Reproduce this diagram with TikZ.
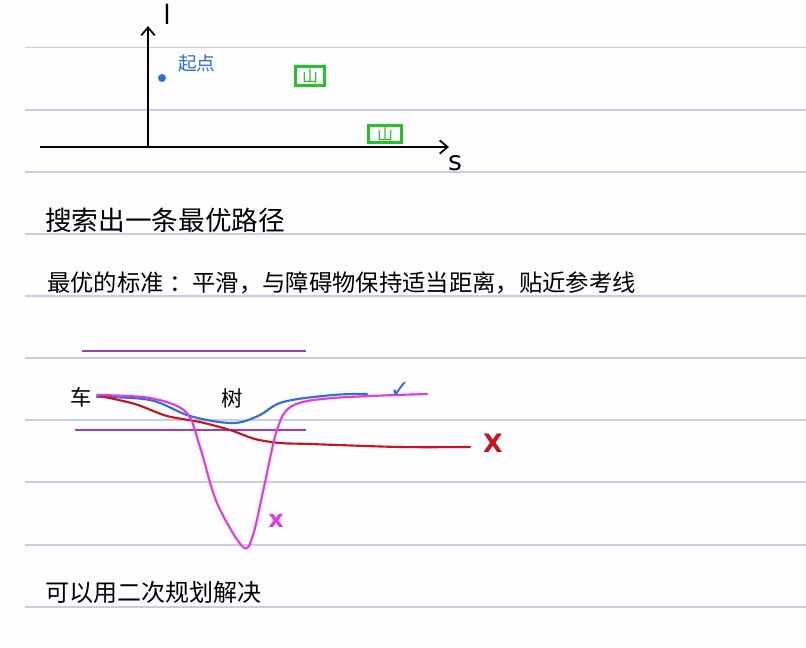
\documentclass[tikz,border=0pt]{standalone}
\usepackage{fontspec}
\setmainfont{DejaVu Sans}
\newfontfamily\cjk{Noto Sans CJK SC}
\newfontfamily\dejavu{DejaVu Sans}
\usetikzlibrary{arrows.meta}
\definecolor{rule}{HTML}{C9CEDF}
\definecolor{penblue}{HTML}{2E6FD8}
\definecolor{penmag}{HTML}{E23BDF}
\definecolor{penred}{HTML}{C4161C}
\definecolor{penpurple}{HTML}{9A3DB6}
\definecolor{pengreen}{HTML}{22C42A}
\definecolor{paper}{HTML}{FDFCFE}
\tikzset{
  ruleline/.style={draw=rule, line width=1.1pt},
  axis/.style={draw=black, line width=1.3pt, -{Straight Barb[length=6pt,width=10pt]}},
  pen/.style={line width=1.6pt, line cap=round, line join=round},
  cjktext/.style={font=\cjk\fontsize{#1}{#1}\selectfont, inner sep=0pt, anchor=west},
  obst/.style={draw=pengreen, line width=1.8pt, inner sep=1pt, text=pengreen, font=\cjk\fontsize{12}{12}\selectfont, minimum height=14pt}
}
\begin{document}
\begin{tikzpicture}[x=0.75pt, y=-0.75pt]
\fill[paper] (0,0) rectangle (806,647);
\useasboundingbox (0,0) rectangle (806,647);
% ruling lines
\foreach \yy in {47.5,110,172,234,296,358,420,482,545,607}
  \draw[ruleline] (25,\yy) -- (806,\yy);
% axes
\coordinate (o) at (148,147);
\coordinate (ltop) at (148,26);
\coordinate (sleft) at (40,147);
\coordinate (send) at (449,147);
\draw[axis] (o) -- (ltop);
\draw[axis] (sleft) -- (send);
\node[font=\dejavu\fontsize{20}{20}\selectfont] (lab-l) at (167,14) {l};
\node[font=\dejavu\fontsize{20}{20}\selectfont] (lab-s) at (455,163) {s};
\fill[penblue] (162,78) circle (3pt);
\node[cjktext=14, text=penblue] (start) at (178,63) {起点};
\node[obst, minimum width=22pt] (ob1) at (310,76) {山};
\node[obst, minimum width=25pt, minimum height=13pt] (ob2) at (385,134) {山};
% text lines
\node[cjktext=20] (title) at (45,220) {搜索出一条最优路径};
\node[cjktext=17.5] (crit) at (47,283) {最优的标准 ：平滑，与障碍物保持适当距离，贴近参考线};
\node[cjktext=18] (qp) at (45,592) {可以用二次规划解决};
% lower sketch
\draw[penpurple, line width=1.2pt] (82,351) -- (306,351);
\draw[penpurple, line width=1.2pt] (75,430) -- (306,430);
\node[cjktext=16] (car) at (70,397) {车};
\node[cjktext=16] (tree) at (221,398) {树};
\draw[pen, penblue] plot[smooth, tension=0.6] coordinates {(97,397) (150,400) (190,416) (232,423) (258,416) (283,402) (333,395) (367,394)};
\draw[pen, penred] plot[smooth, tension=0.5] coordinates {(100,396) (135,404) (167,416) (200,422) (230,430) (255,439) (280,443) (310,444) (400,447) (470,447)};
\draw[pen, penmag] plot[smooth, tension=0.55] coordinates {(97,395) (150,398) (186,412) (200,447) (217,503) (243,547) (253,535) (264,487) (277,430) (292,406) (333,398) (427,394)};
\node[text=penblue, font=\dejavu\fontsize{18}{18}\selectfont] (ok) at (400,390) {✓};
\node[text=penred, font=\dejavu\bfseries\fontsize{19}{19}\selectfont] (bad1) at (493,443) {X};
\node[text=penmag, font=\dejavu\bfseries\fontsize{18}{18}\selectfont] (bad2) at (276,521) {x};
\end{tikzpicture}
\end{document}
